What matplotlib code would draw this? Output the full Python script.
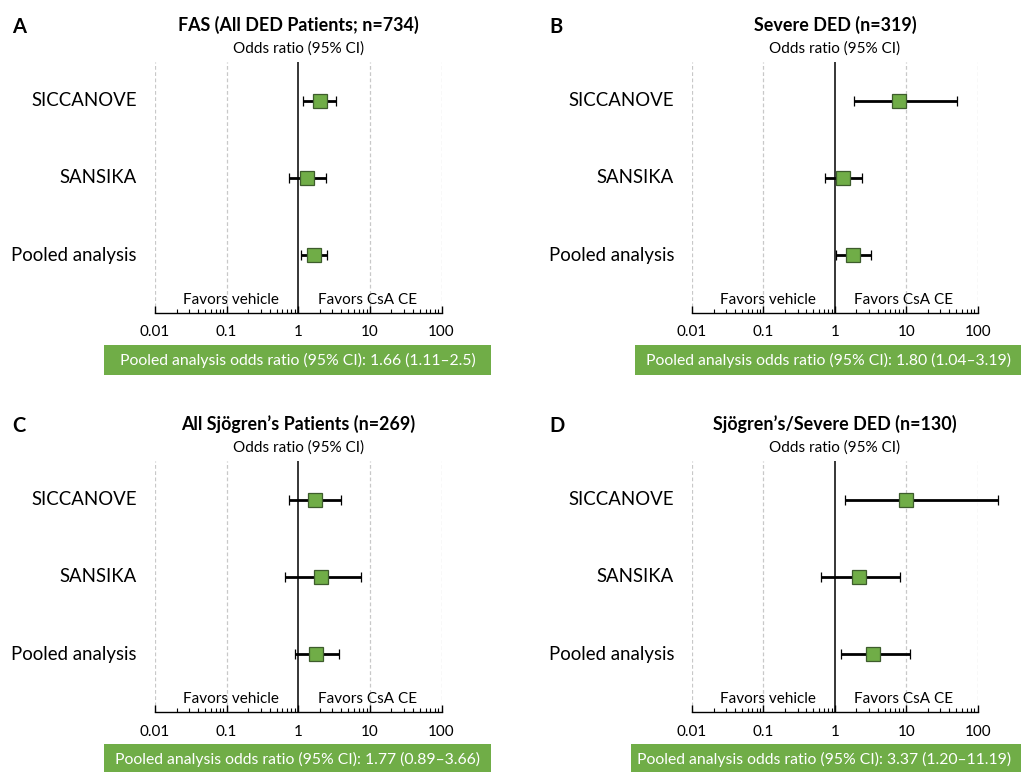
import numpy as np
import matplotlib
matplotlib.use('Agg')
import matplotlib.pyplot as plt
import matplotlib.transforms as mtransforms
from matplotlib.patches import Rectangle

plt.rcParams['font.family'] = ['Lato', 'DejaVu Sans']

W, H = 1021, 772

# Data
trials = ['SICCANOVE', 'SANSIKA', 'Pooled analysis']
panel_letters = ['A', 'B', 'C', 'D']
panel_titles = ['FAS (All DED Patients; n=734)', 'Severe DED (n=319)',
                'All Sjögren’s Patients (n=269)', 'Sjögren’s/Severe DED (n=130)']

or_A = [2.00, 1.32, 1.66]
lo_A = [1.15, 0.75, 1.11]
hi_A = [3.35, 2.45, 2.50]

or_B = [7.95, 1.29, 1.80]
lo_B = [1.88, 0.73, 1.04]
hi_B = [51.6, 2.41, 3.19]

or_C = [1.70, 2.06, 1.77]
lo_C = [0.75, 0.65, 0.89]
hi_C = [3.97, 7.60, 3.66]

or_D = [10.0, 2.19, 3.37]
lo_D = [1.38, 0.65, 1.20]
hi_D = [195.0, 8.20, 11.19]

pooled_text = ['Pooled analysis odds ratio (95% CI): 1.66 (1.11–2.5)',
               'Pooled analysis odds ratio (95% CI): 1.80 (1.04–3.19)',
               'Pooled analysis odds ratio (95% CI): 1.77 (0.89–3.66)',
               'Pooled analysis odds ratio (95% CI): 3.37 (1.20–11.19)']

tick_vals = [0.01, 0.1, 1, 10, 100]
tick_labels = ['0.01', '0.1', '1', '10', '100']

GREEN = '#70AD47'


def px_box(left, top, right, bottom):
    # pixel box -> figure fraction [x0, y0, w, h]
    return [left / W, 1 - bottom / H, (right - left) / W, (bottom - top) / H]


fig = plt.figure(figsize=(W / 100, H / 100), dpi=100)

# (left, top, right, bottom) of each plot area in pixels
boxes = [(155, 62, 441.5, 313), (692, 62, 977.7, 313),
         (155, 461, 441.5, 712), (692, 461, 977.7, 712)]
green_boxes = [(104, 345, 491, 375), (635, 345, 1022, 375),
               (104, 744, 491, 774), (631, 744, 1022, 774)]
letter_pos = [(12, 27), (549, 27), (12, 426), (549, 426)]

data = [(or_A, lo_A, hi_A), (or_B, lo_B, hi_B), (or_C, lo_C, hi_C), (or_D, lo_D, hi_D)]
ypos = np.array([3, 2, 1])

for k in range(4):
    l, t, r, b = boxes[k]
    ax = fig.add_axes(px_box(l, t, r, b))
    ax.set_xscale('log')
    ax.set_xlim(0.01, 100)
    ax.set_ylim(0.25, 3.5)

    for v in [0.01, 0.1, 10, 100]:
        ax.axvline(v, color='#c8c8c8', lw=0.9, ls=(0, (3, 2)), zorder=0)
    ax.axvline(1, color='black', lw=1.1, zorder=1)

    ors, los, his = [np.array(a) for a in data[k]]
    cont = ax.errorbar(ors, ypos, xerr=[ors - los, his - ors], fmt='s', ms=9.5,
                       mfc=GREEN, mec='#3d5c2c', mew=0.9, ecolor='black',
                       elinewidth=2.0, capsize=3.5, capthick=2.0, zorder=3)
    for art in cont.get_children():
        art.set_clip_on(False)

    for s in ['left', 'right', 'top']:
        ax.spines[s].set_visible(False)
    ax.spines['bottom'].set_linewidth(1.0)
    ax.set_yticks([])
    ax.set_xticks(tick_vals)
    ax.set_xticklabels(tick_labels)
    ax.tick_params(axis='x', which='major', direction='in', length=5, width=1,
                   pad=9, labelsize=11)
    ax.tick_params(axis='x', which='minor', direction='in', length=3, width=0.8)

    trans = mtransforms.blended_transform_factory(ax.transAxes, ax.transData)
    for name, yy in zip(trials, ypos):
        ax.text(-0.063, yy, name, transform=trans, ha='right', va='center', fontsize=13.4)

    ax.text(0.5, 1 + 37 / (b - t), panel_titles[k], transform=ax.transAxes,
            ha='center', va='center', fontsize=12.9, fontweight='bold')
    ax.text(0.5, 1 + 13 / (b - t), 'Odds ratio (95% CI)', transform=ax.transAxes,
            ha='center', va='center', fontsize=11)

    fav_y = 13 / (b - t)
    ftrans = mtransforms.blended_transform_factory(ax.transData, ax.transAxes)
    ax.annotate('Favors vehicle', xy=(1, fav_y), xycoords=ftrans, xytext=(-14, 0),
                textcoords='offset points', ha='right', va='center', fontsize=11)
    ax.annotate('Favors CsA CE', xy=(1, fav_y), xycoords=ftrans, xytext=(14, 0),
                textcoords='offset points', ha='left', va='center', fontsize=11)

    gl, gt, gr, gb = green_boxes[k]
    x0, y0, w, h = px_box(gl, gt, gr, gb)
    fig.add_artist(Rectangle((x0, y0), w, h, transform=fig.transFigure,
                             facecolor=GREEN, edgecolor='none'))
    fig.text((gl + 193.5) / W, 1 - (gt + 15) / H, pooled_text[k], color='white',
             ha='center', va='center', fontsize=11.3)

    lx, ly = letter_pos[k]
    fig.text(lx / W, 1 - ly / H, panel_letters[k], ha='left', va='center',
             fontsize=14.5, fontweight='bold')

fig.savefig('out.png', dpi=100)
